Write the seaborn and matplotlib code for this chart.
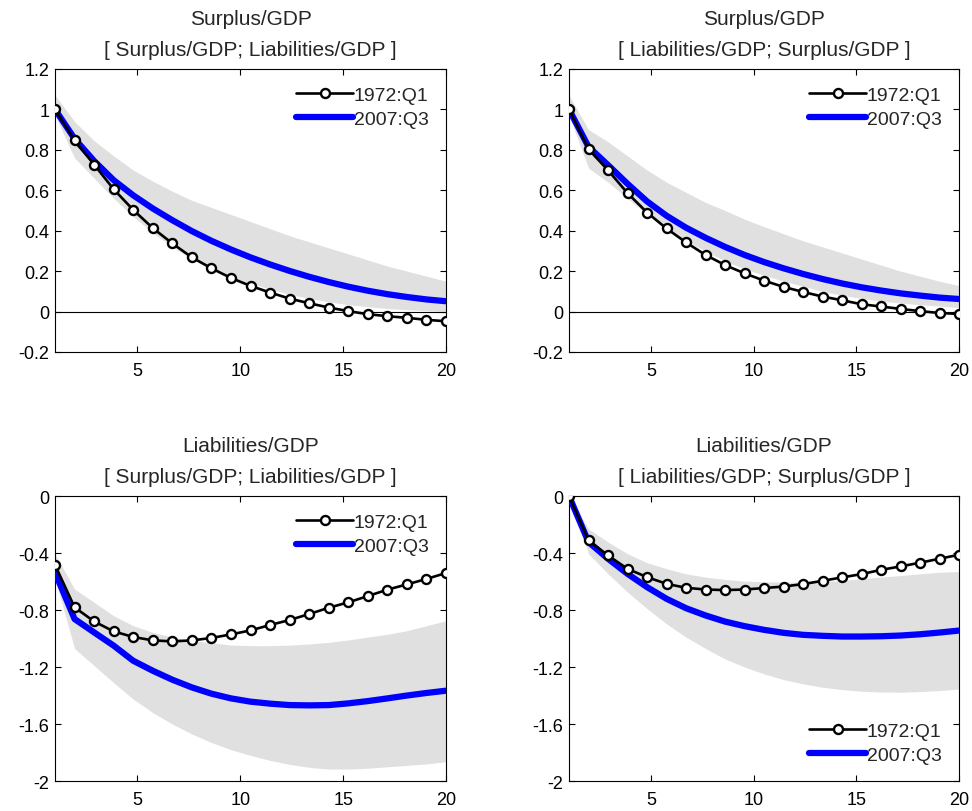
import numpy as np
import pandas as pd
import matplotlib
matplotlib.use("Agg")
import matplotlib.pyplot as plt
import seaborn as sns

# horizon grid (21 responses drawn across 1..20)
horizon = np.linspace(1, 20, 21)

# top-left: Surplus/GDP, ordering [Surplus/GDP; Liabilities/GDP]
tl_1972 = [1.0, 0.847, 0.727, 0.605, 0.503, 0.413, 0.337, 0.268, 0.214, 0.166, 0.127,
           0.094, 0.064, 0.041, 0.020, 0.002, -0.013, -0.023, -0.031, -0.041, -0.048]
tl_2007 = [1.0, 0.855, 0.745, 0.650, 0.575, 0.510, 0.452, 0.398, 0.350, 0.307, 0.268,
           0.233, 0.201, 0.172, 0.146, 0.123, 0.103, 0.086, 0.072, 0.060, 0.051]
tl_upper = [1.07, 0.94, 0.845, 0.77, 0.70, 0.645, 0.595, 0.55, 0.515, 0.48, 0.445,
            0.41, 0.375, 0.345, 0.315, 0.285, 0.255, 0.225, 0.20, 0.175, 0.15]
tl_lower = [0.97, 0.76, 0.66, 0.56, 0.47, 0.39, 0.32, 0.26, 0.21, 0.17, 0.14,
            0.11, 0.085, 0.065, 0.048, 0.034, 0.024, 0.015, 0.009, 0.004, 0.0]

# top-right: Surplus/GDP, ordering [Liabilities/GDP; Surplus/GDP]
tr_1972 = [1.0, 0.803, 0.699, 0.586, 0.490, 0.411, 0.342, 0.280, 0.230, 0.189, 0.153,
           0.122, 0.097, 0.074, 0.056, 0.036, 0.025, 0.013, 0.002, -0.007, -0.012]
tr_2007 = [1.0, 0.815, 0.725, 0.632, 0.545, 0.474, 0.415, 0.365, 0.320, 0.280, 0.245,
           0.214, 0.186, 0.161, 0.139, 0.120, 0.104, 0.090, 0.079, 0.069, 0.062]
tr_upper = [1.07, 0.90, 0.84, 0.77, 0.70, 0.64, 0.59, 0.54, 0.50, 0.457, 0.42,
            0.385, 0.35, 0.32, 0.29, 0.26, 0.23, 0.20, 0.175, 0.15, 0.128]
tr_lower = [0.97, 0.71, 0.64, 0.56, 0.48, 0.41, 0.35, 0.30, 0.25, 0.21, 0.18,
            0.15, 0.125, 0.10, 0.08, 0.065, 0.052, 0.042, 0.034, 0.027, 0.02]

# bottom-left: Liabilities/GDP, ordering [Surplus/GDP; Liabilities/GDP]
bl_1972 = [-0.484, -0.781, -0.880, -0.950, -0.989, -1.013, -1.020, -1.013, -0.996, -0.971, -0.943,
           -0.905, -0.870, -0.828, -0.784, -0.746, -0.702, -0.657, -0.620, -0.582, -0.540]
bl_2007 = [-0.536, -0.863, -0.957, -1.050, -1.156, -1.226, -1.289, -1.343, -1.387, -1.420, -1.443,
           -1.457, -1.467, -1.469, -1.467, -1.455, -1.439, -1.420, -1.400, -1.382, -1.366]
bl_upper = [-0.407, -0.653, -0.746, -0.84, -0.91, -0.957, -0.99, -1.015, -1.03, -1.046, -1.05,
            -1.05, -1.046, -1.038, -1.027, -1.01, -0.99, -0.97, -0.945, -0.91, -0.875]
bl_lower = [-0.58, -1.07, -1.19, -1.31, -1.425, -1.52, -1.60, -1.67, -1.73, -1.78, -1.82,
            -1.855, -1.883, -1.904, -1.916, -1.916, -1.91, -1.90, -1.89, -1.88, -1.864]

# bottom-right: Liabilities/GDP, ordering [Liabilities/GDP; Surplus/GDP]
br_1972 = [0.0, -0.311, -0.417, -0.511, -0.569, -0.616, -0.644, -0.656, -0.660, -0.656, -0.646,
           -0.635, -0.618, -0.595, -0.571, -0.548, -0.518, -0.494, -0.468, -0.440, -0.412]
br_2007 = [0.0, -0.323, -0.440, -0.546, -0.639, -0.721, -0.787, -0.838, -0.881, -0.913, -0.939,
           -0.960, -0.974, -0.981, -0.986, -0.986, -0.984, -0.979, -0.970, -0.958, -0.944]
br_upper = [0.0, -0.23, -0.323, -0.405, -0.468, -0.51, -0.546, -0.569, -0.585, -0.597, -0.602,
            -0.604, -0.604, -0.60, -0.593, -0.581, -0.569, -0.558, -0.546, -0.535, -0.53]
br_lower = [0.0, -0.405, -0.546, -0.674, -0.79, -0.897, -0.99, -1.07, -1.143, -1.20, -1.248,
            -1.288, -1.318, -1.342, -1.358, -1.37, -1.375, -1.377, -1.372, -1.365, -1.354]

titles = ["Surplus/GDP\n[ Surplus/GDP; Liabilities/GDP ]",
          "Surplus/GDP\n[ Liabilities/GDP; Surplus/GDP ]",
          "Liabilities/GDP\n[ Surplus/GDP; Liabilities/GDP ]",
          "Liabilities/GDP\n[ Liabilities/GDP; Surplus/GDP ]"]
legend_labels = ["1972:Q1", "2007:Q3"]
x_ticks = [5, 10, 15, 20]
top_yticks = [-0.2, 0, 0.2, 0.4, 0.6, 0.8, 1, 1.2]
bottom_yticks = [-2, -1.6, -1.2, -0.8, -0.4, 0]

sns.set_style("ticks")
plt.rcParams["font.family"] = ["Liberation Sans", "DejaVu Sans"]
plt.rcParams["axes.unicode_minus"] = False

fig = plt.figure(figsize=(9.72, 8.12), dpi=100)
positions = [
    [0.0566, 0.5653, 0.4023, 0.3485],
    [0.5854, 0.5653, 0.4013, 0.3485],
    [0.0566, 0.0369, 0.4023, 0.3510],
    [0.5854, 0.0369, 0.4013, 0.3510],
]
panels = [
    (tl_1972, tl_2007, tl_upper, tl_lower),
    (tr_1972, tr_2007, tr_upper, tr_lower),
    (bl_1972, bl_2007, bl_upper, bl_lower),
    (br_1972, br_2007, br_upper, br_lower),
]

for i, (old, new, up, lo) in enumerate(panels):
    ax = fig.add_axes(positions[i])
    ax.fill_between(horizon, lo, up, color="#e0e0e0", lw=0, zorder=1)
    df = pd.DataFrame({"h": horizon, "old": old, "new": new})
    if i < 2:
        ax.axhline(0, color="black", lw=0.8, zorder=2)
    sns.lineplot(data=df, x="h", y="new", ax=ax, color="#0000ff", lw=4.5,
                 label=legend_labels[1], zorder=3)
    sns.lineplot(data=df, x="h", y="old", ax=ax, color="black", lw=1.9,
                 marker="o", markersize=6.5, markerfacecolor="white",
                 markeredgecolor="black", markeredgewidth=1.7,
                 label=legend_labels[0], zorder=4)

    ax.set_xlim(1, 20)
    ax.set_xticks(x_ticks)
    yt = top_yticks if i < 2 else bottom_yticks
    ax.set_ylim(yt[0], yt[-1])
    ax.set_yticks(yt)
    ax.set_yticklabels(["%g" % v for v in yt])
    ax.set_xlabel("")
    ax.set_ylabel("")
    ax.tick_params(direction="in", top=True, right=True, length=4, width=0.8,
                   labelsize=13, colors="black")
    ax.tick_params(axis="x", pad=7)
    ax.tick_params(axis="y", pad=4)
    for s in ax.spines.values():
        s.set_linewidth(0.8)
        s.set_color("black")
    ax.set_title(titles[i], fontsize=15, linespacing=1.8, pad=10)

    handles, labels = ax.get_legend_handles_labels()
    order = [labels.index(legend_labels[0]), labels.index(legend_labels[1])]
    ax.legend([handles[k] for k in order], [labels[k] for k in order],
              loc="lower right" if i == 3 else "upper right", frameon=False,
              fontsize=14, handlelength=2.9, handletextpad=0.05,
              labelspacing=0.3, borderaxespad=0.5)

fig.savefig("out.png", dpi=100)
